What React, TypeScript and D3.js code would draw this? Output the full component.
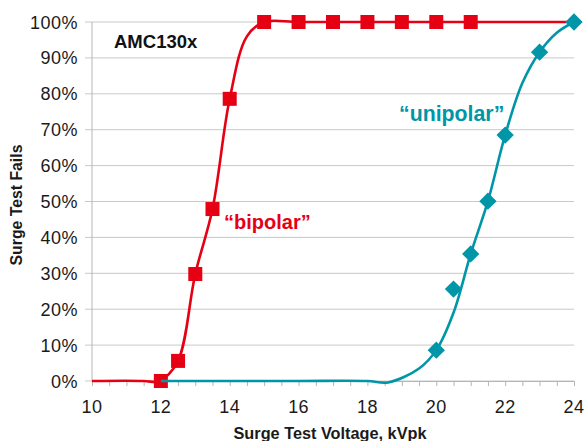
import React, { useRef, useEffect } from 'react';
import * as d3 from 'd3';

// measured points (markers)
const bipolarX = [12, 12.5, 13, 13.5, 14, 15, 16, 17, 18, 19, 20, 21];
const bipolarY = [0, 5.6, 29.8, 47.9, 78.6, 100, 100, 100, 100, 100, 100, 100];
const unipolarX = [20, 20.5, 21, 21.5, 22, 23, 24];
const unipolarY = [8.6, 25.6, 35.4, 50.1, 68.5, 91.6, 100];

// fitted curves
const bipolarFitX = [10, 11.5, 11.85, 12, 12.5, 13, 13.5, 14, 14.5, 15, 16, 18, 20, 22, 24];
const bipolarFitY = [0, 0, -0.3, 0, 5.6, 29.8, 47.9, 78.6, 96, 100, 100, 100, 100, 100, 100];
const unipolarFitX = [12, 14, 16, 18, 18.6, 19.5, 20, 20.5, 21, 21.5, 22, 22.5, 23, 23.5, 24];
const unipolarFitY = [0, 0, 0, 0, -0.4, 3.5, 8.6, 19, 35.4, 50.1, 68.5, 83, 91.6, 97, 100];

const xTicks = [10, 12, 14, 16, 18, 20, 22, 24];
const yTicks = [0, 10, 20, 30, 40, 50, 60, 70, 80, 90, 100];

const RED = '#e60014';
const TEAL = '#0096a8';
const FONT = 'Liberation Sans, Arial, Helvetica, sans-serif';

const App = () => {
  const svgRef = useRef<SVGSVGElement>(null);

  useEffect(() => {
    const width = 587;
    const height = 441;
    const svg = d3.select(svgRef.current)
      .attr('width', width)
      .attr('height', height);

    svg.selectAll('*').remove();

    const x = d3.scaleLinear().domain([10, 24]).range([92, 574]);
    const y = d3.scaleLinear().domain([0, 100]).range([381, 22]);

    // gridlines
    svg.append('g')
      .selectAll('line')
      .data(yTicks)
      .enter()
      .append('line')
      .attr('x1', 85)
      .attr('x2', x(24))
      .attr('y1', d => y(d))
      .attr('y2', d => y(d))
      .attr('stroke', '#c9c9c9')
      .attr('stroke-width', 1);

    // y axis line
    svg.append('line')
      .attr('x1', x(10)).attr('x2', x(10))
      .attr('y1', y(100)).attr('y2', y(0))
      .attr('stroke', '#b5b5b5');

    // x axis, minor ticks every 0.5
    const xAxis = svg.append('g')
      .attr('transform', `translate(0, ${y(0)})`)
      .call(d3.axisBottom(x).tickValues(d3.range(10, 24.01, 0.5)).tickSize(5).tickFormat(() => ''));
    xAxis.select('.domain').attr('stroke', '#b5b5b5');
    xAxis.selectAll('.tick line').attr('stroke', '#b5b5b5');

    svg.append('g')
      .selectAll('text')
      .data(xTicks)
      .enter()
      .append('text')
      .attr('x', d => x(d))
      .attr('y', 413)
      .attr('text-anchor', 'middle')
      .attr('font-family', FONT)
      .attr('font-size', 18)
      .attr('letter-spacing', 0.4)
      .attr('fill', '#1a1a1a')
      .text(d => d);

    svg.append('g')
      .selectAll('text')
      .data(yTicks)
      .enter()
      .append('text')
      .attr('x', 78)
      .attr('y', d => y(d) + 6.5)
      .attr('text-anchor', 'end')
      .attr('font-family', FONT)
      .attr('font-size', 18)
      .attr('letter-spacing', 0.5)
      .attr('fill', '#1a1a1a')
      .text(d => `${d}%`);

    // axis titles
    svg.append('text')
      .attr('x', 330)
      .attr('y', 439)
      .attr('text-anchor', 'middle')
      .attr('font-family', FONT)
      .attr('font-size', 16.3)
      .attr('font-weight', 'bold')
      .attr('fill', '#1a1a1a')
      .text('Surge Test Voltage, kVpk');

    svg.append('text')
      .attr('transform', 'translate(22, 205) rotate(-90)')
      .attr('text-anchor', 'middle')
      .attr('font-family', FONT)
      .attr('font-size', 15.8)
      .attr('font-weight', 'bold')
      .attr('fill', '#1a1a1a')
      .text('Surge Test Fails');

    svg.append('text')
      .attr('x', 114)
      .attr('y', 48)
      .attr('font-family', FONT)
      .attr('font-size', 18.5)
      .attr('font-weight', 'bold')
      .attr('fill', '#111')
      .text('AMC130x');

    const curve = d3.line().curve(d3.curveCatmullRom.alpha(0.5));
    const bipolarFit = bipolarFitX.map((d, i) => [x(d), y(bipolarFitY[i])] as [number, number]);
    const unipolarFit = unipolarFitX.map((d, i) => [x(d), y(unipolarFitY[i])] as [number, number]);

    svg.append('path')
      .attr('d', curve(bipolarFit))
      .attr('fill', 'none')
      .attr('stroke', RED)
      .attr('stroke-width', 2.6);

    svg.append('g')
      .selectAll('rect')
      .data(bipolarX)
      .enter()
      .append('rect')
      .attr('x', d => x(d) - 7)
      .attr('y', (d, i) => y(bipolarY[i]) - 7)
      .attr('width', 14)
      .attr('height', 14)
      .attr('fill', RED);

    svg.append('path')
      .attr('d', curve(unipolarFit))
      .attr('fill', 'none')
      .attr('stroke', TEAL)
      .attr('stroke-width', 2.6);

    svg.append('g')
      .selectAll('path')
      .data(unipolarX)
      .enter()
      .append('path')
      .attr('d', d3.symbol(d3.symbolSquare, 150)())
      .attr('transform', (d, i) => `translate(${x(d)}, ${y(unipolarY[i])}) rotate(45)`)
      .attr('fill', TEAL);

    // series labels
    svg.append('text')
      .attr('x', 224)
      .attr('y', 229)
      .attr('font-family', FONT)
      .attr('font-size', 20)
      .attr('font-weight', 'bold')
      .attr('fill', RED)
      .text('\u201cbipolar\u201d');

    svg.append('text')
      .attr('x', 399)
      .attr('y', 121)
      .attr('font-family', FONT)
      .attr('font-size', 21.3)
      .attr('font-weight', 'bold')
      .attr('fill', TEAL)
      .text('\u201cunipolar\u201d');
  }, []);

  return (
    <svg ref={svgRef} style={{ position: 'absolute', left: 0, top: 0, display: 'block' }}></svg>
  );
};

export default App;
